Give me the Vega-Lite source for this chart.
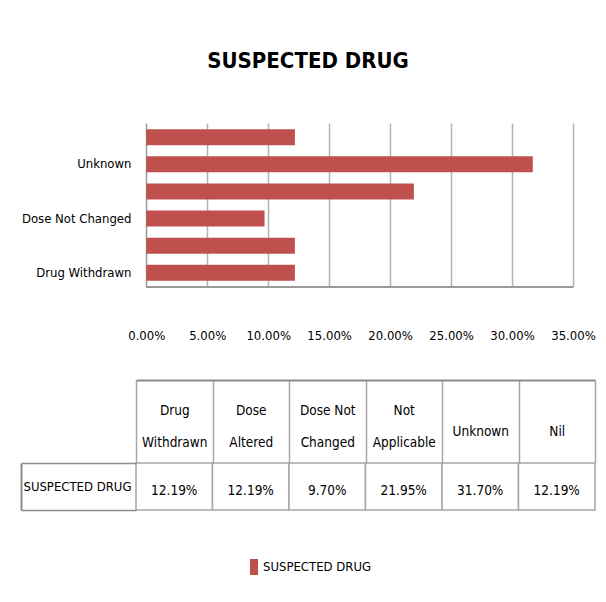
{
  "$schema": "https://vega.github.io/schema/vega-lite/v6.json",
  "padding": {"left": 20, "right": 5, "top": 50, "bottom": 5},
  "background": "white",
  "title": {"text": "SUSPECTED DRUG", "font": "DejaVu Sans Condensed, DejaVu Sans, sans-serif", "fontSize": 22, "fontWeight": "bold", "color": "black", "anchor": "middle", "offset": 50},
  "config": {"view": {"stroke": null}},
  "data": {"values": [
    {"category": "Drug Withdrawn", "value": 0.1219, "series": "SUSPECTED DRUG"},
    {"category": "Dose Altered", "value": 0.1219, "series": "SUSPECTED DRUG"},
    {"category": "Dose Not Changed", "value": 0.097, "series": "SUSPECTED DRUG"},
    {"category": "Not Applicable", "value": 0.2195, "series": "SUSPECTED DRUG"},
    {"category": "Unknown", "value": 0.317, "series": "SUSPECTED DRUG"},
    {"category": "Nil", "value": 0.1219, "series": "SUSPECTED DRUG"}
  ]},
  "spacing": 37,
  "vconcat": [
    {
      "width": 437,
      "height": 164,
      "encoding": {
        "y": {"field": "category", "type": "nominal",
              "sort": ["Nil", "Unknown", "Not Applicable", "Dose Not Changed", "Dose Altered", "Drug Withdrawn"],
              "scale": {"paddingInner": 0.41, "paddingOuter": 0.23},
              "axis": {"title": null, "ticks": false, "domain": false,
                       "labelExpr": "indexof(['Unknown','Dose Not Changed','Drug Withdrawn'], datum.value) >= 0 ? datum.label : ''",
                       "labelFont": "DejaVu Sans Condensed, DejaVu Sans, sans-serif", "labelFontSize": 13, "labelColor": "black",
                       "labelPadding": 5}}
      },
      "layer": [
        {
          "mark": {"type": "bar"},
          "encoding": {
            "x": {"field": "value", "type": "quantitative",
                  "scale": {"domain": [-0.00844, 0.35], "nice": false, "zero": false},
                  "axis": {"title": null, "values": [0, 0.05, 0.1, 0.15, 0.2, 0.25, 0.3, 0.35], "format": ".2%",
                           "grid": true, "gridColor": {"condition": {"test": "datum.value == 0", "value": "#9a9a9a"}, "value": "#b3b3b3"},
                           "gridWidth": 1.5, "ticks": false, "domain": false, "labelPadding": 42,
                           "labelFont": "DejaVu Sans Condensed, DejaVu Sans, sans-serif", "labelFontSize": 13, "labelColor": "black",
                           "labelFlush": false, "labelOverlap": false}},
            "x2": {"datum": 0},
            "color": {"field": "series", "type": "nominal", "scale": {"range": ["#C0504D"]},
                      "legend": {"orient": "none", "legendX": 110, "legendY": 436, "title": null,
                                 "symbolType": "M-0.5,-1H0.5V1H-0.5Z", "symbolSize": 256, "symbolStrokeWidth": 0,
                                 "labelFont": "DejaVu Sans Condensed, DejaVu Sans, sans-serif", "labelFontSize": 13, "labelColor": "black", "labelOffset": 1}}
          }
        },
        {
          "mark": {"type": "rule", "color": "#9a9a9a", "strokeWidth": 2},
          "encoding": {
            "x": {"datum": 0},
            "x2": {"datum": 0.35},
            "y": {"value": "height"}
          }
        }
      ]
    },
    {
      "width": 459,
      "height": 47,
      "layer": [
        {
          "mark": {"type": "rect", "fill": "white", "stroke": "#a6a6a6", "strokeWidth": 1.5},
          "encoding": {
            "x": {"field": "category", "type": "nominal",
                  "sort": ["Drug Withdrawn", "Dose Altered", "Dose Not Changed", "Not Applicable", "Unknown", "Nil"],
                  "scale": {"paddingInner": 0, "paddingOuter": 0},
                  "axis": {"orient": "top", "offset": 83, "title": null, "domainColor": "#8c8c8c", "domainWidth": 2,
                           "ticks": true, "tickBand": "extent", "tickSize": -83, "tickColor": "#a6a6a6", "tickWidth": 1.5,
                           "labelAngle": 0, "labelBaseline": "middle", "labelLineHeight": 32,
                           "labelPadding": {"condition": {"test": "datum.value == 'Unknown' || datum.value == 'Nil'", "value": 32}, "value": 53},
                           "labelExpr": "isString(datum.value) ? (datum.value == 'Dose Not Changed' ? ['Dose Not', 'Changed'] : split(datum.value, ' ')) : ''",
                           "labelFont": "DejaVu Sans Condensed, DejaVu Sans, sans-serif", "labelFontSize": 13.5, "labelColor": "black",
                           "labelOverlap": false, "grid": false}},
            "y": {"field": "series", "type": "nominal",
                  "axis": {"orient": "left", "offset": 115, "title": null, "domainColor": "#8c8c8c", "domainWidth": 2,
                           "ticks": true, "tickBand": "extent", "tickSize": -115, "tickColor": "#8c8c8c", "tickWidth": 1.5,
                           "labelPadding": 5, "labelFont": "DejaVu Sans Condensed, DejaVu Sans, sans-serif", "labelFontSize": 13, "labelColor": "black", "grid": false}}
          }
        },
        {
          "mark": {"type": "text", "font": "DejaVu Sans Condensed, DejaVu Sans, sans-serif", "fontSize": 13.5, "color": "black", "dy": 4},
          "encoding": {
            "x": {"field": "category", "type": "nominal", "sort": ["Drug Withdrawn", "Dose Altered", "Dose Not Changed", "Not Applicable", "Unknown", "Nil"]},
            "y": {"field": "series", "type": "nominal"},
            "text": {"field": "value", "type": "quantitative", "format": ".2%"}
          }
        }
      ]
    }
  ]
}
